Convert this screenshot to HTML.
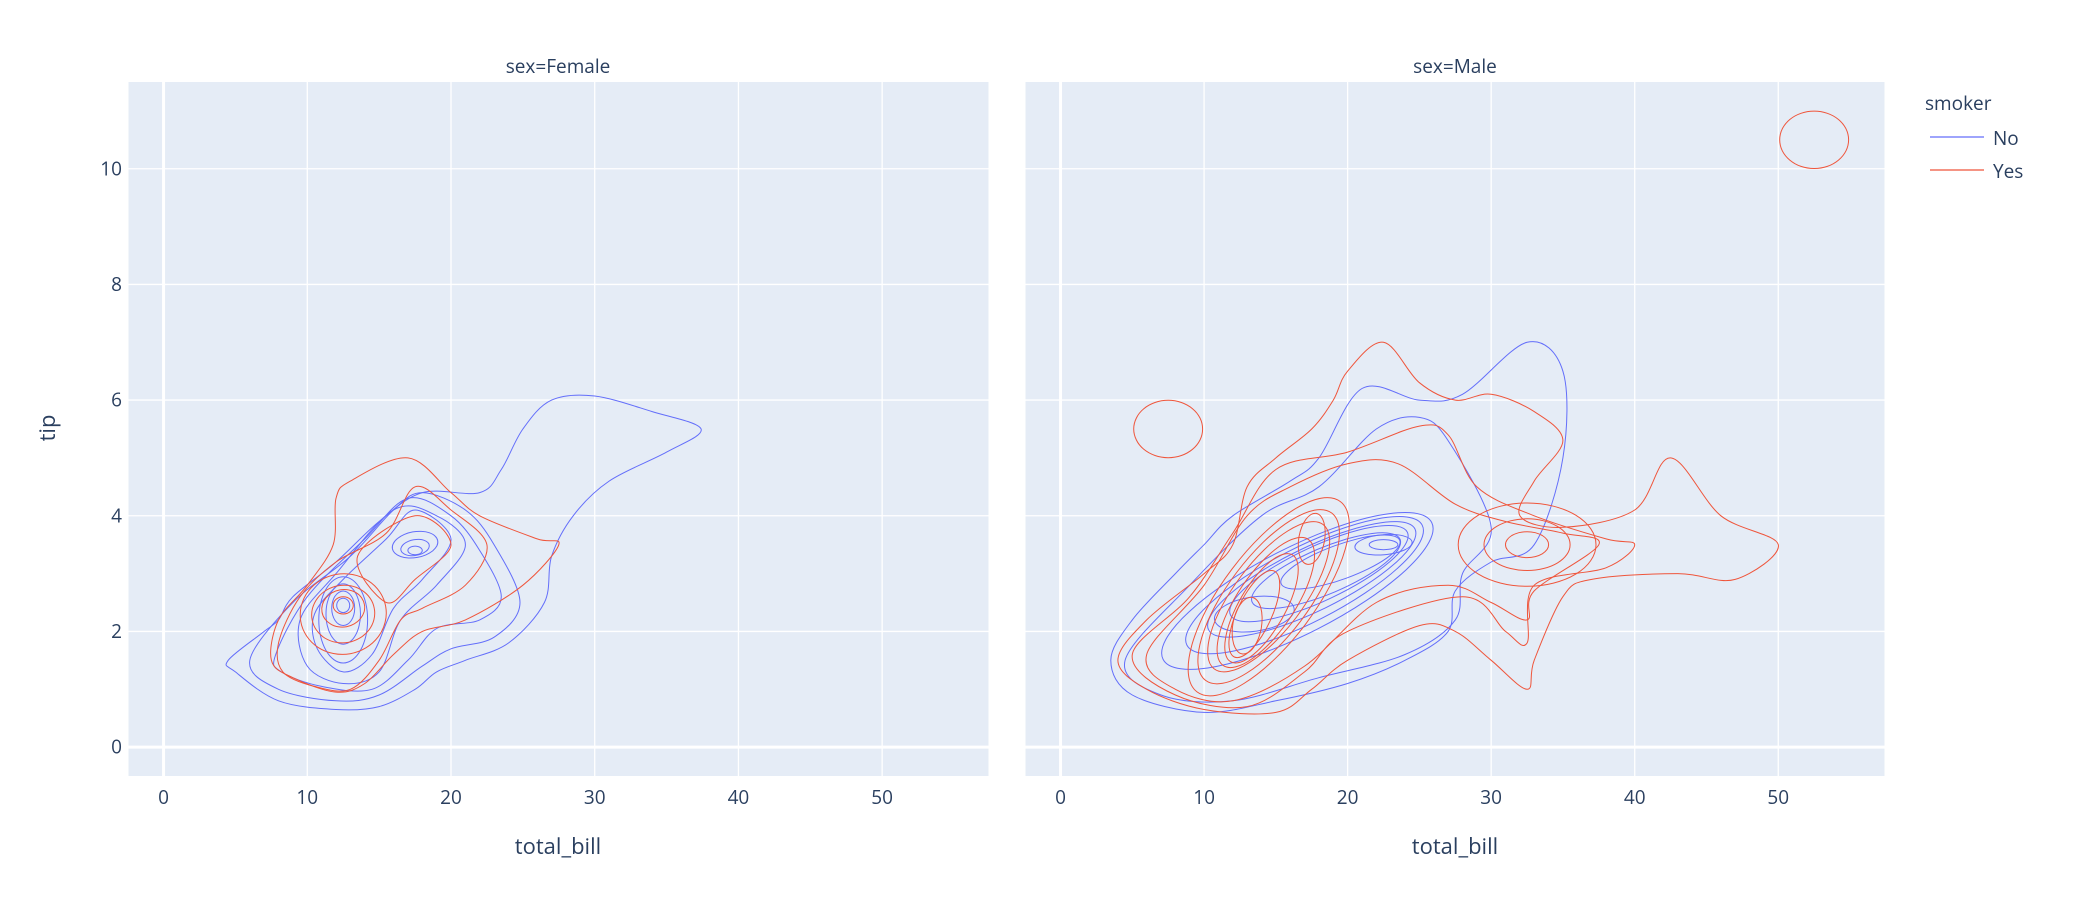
<!DOCTYPE html>
<html><head><meta charset="utf-8"><style>
body{margin:0;background:#fff;}
svg text{font-family:"Open Sans","Liberation Sans",sans-serif;fill:#2a3f5f;}
</style></head><body>
<svg id="chart" width="2078" height="906" viewBox="0 0 2078 906" xmlns="http://www.w3.org/2000/svg">
<g id="bg"></g><g id="grid"></g><g id="marks"></g><g id="labels"></g>
<text x="558" y="73" text-anchor="middle" font-size="19">sex=Female</text>
<text x="1455" y="73" text-anchor="middle" font-size="19">sex=Male</text>
<text x="558" y="854" text-anchor="middle" font-size="22">total_bill</text>
<text x="1455" y="854" text-anchor="middle" font-size="22">total_bill</text>
<text transform="translate(55,428) rotate(-90)" text-anchor="middle" font-size="22">tip</text>
<g>
<text x="1925" y="110" font-size="19">smoker</text>
<g><line x1="1930" y1="137" x2="1984" y2="137" stroke="#636efa" stroke-width="1.3"/><text x="1993" y="145" font-size="19">No</text></g>
<g><line x1="1930" y1="170" x2="1984" y2="170" stroke="#ef553b" stroke-width="1.3"/><text x="1993" y="178" font-size="19">Yes</text></g>
</g>
</svg>
<script>
const xTicks=[0,10,20,30,40,50];
const yTicks=[0,2,4,6,8,10];
const xRange=[-2.44,57.4];
const yRange=[-0.5,11.5];
// Polyline contours in data units [total_bill, tip]
const femaleNoPaths=[
 [[4.5,1.5],[7,2],[8,2.2],[9,2.6],[12,3.2],[15,3.9],[18,4.4],[22,4.4],[23.5,4.8],[25,5.5],[27,6],[30,6.07],[34,5.8],[37.4,5.5],[35,5.1],[31,4.6],[28.5,4],[27,3.3],[26.5,2.5],[24,1.8],[21,1.5],[19,1.3],[17.5,1],[15,0.7],[12,0.65],[8,0.8],[5,1.3]],
 [[6,1.5],[9,2.5],[13,3.3],[16,4.1],[18,4.4],[21,4.1],[23,3.5],[24.8,2.5],[23,1.9],[20,1.7],[18,1.4],[15,0.9],[12,0.8],[8,1.0]],
 [[7.8,1.6],[10,2.6],[14,3.6],[17,4.3],[20,4.0],[22,3.4],[23.5,2.6],[22,2.2],[19,2.05],[17,1.5],[14.5,1.0],[11,1.05],[8.2,1.3]],
 [[9.5,2.2],[12,3.0],[16,4.1],[19,4.0],[21,3.5],[19,2.8],[16.5,2.2],[15,1.3],[12.5,1.1],[10,1.4]],
 [[10.5,2.3],[12.5,2.9],[15.5,3.6],[17.5,4.1],[20,3.6],[18,2.9],[16,2.4],[14.5,1.6],[12.5,1.3],[10.7,1.7]]
];
const femaleYesPaths=[
 [[7.5,1.5],[8,2.2],[10,2.8],[11.8,3.5],[12,4.3],[13,4.6],[17,5],[20,4.4],[22,4.0],[26,3.6],[27.5,3.5],[25,2.8],[21,2.2],[18,2.0],[16,1.6],[14,1.1],[12,0.95],[9,1.2]],
 [[8,1.8],[9.5,2.6],[12,3.2],[15.5,3.7],[17.5,4.5],[20,4.1],[22.5,3.5],[21,2.8],[18,2.4],[16.5,2.2],[15,1.5],[13,1.0],[10.5,1.05],[8.3,1.3]],
 [[13.5,3.3],[17.5,4.0],[20,3.5],[17.5,2.9],[15.5,2.5]]
];
const maleNoPaths=[
 [[3.5,1.5],[5,2.2],[8,3],[10,3.5],[12,4],[16,4.6],[18,5],[21,6.2],[25,6.0],[28,6.1],[32.5,7],[35,6.5],[35,5],[33,3.5],[30,3.2],[27.5,2.7],[27,2.0],[24,1.5],[20,1.1],[15,0.8],[10,0.6],[5,0.9]],
 [[4.5,1.5],[9,2.8],[14,4],[18,4.5],[22,5.5],[25,5.7],[27,5.3],[30,3.8],[28,3],[27.5,2.2],[24,1.6],[18,1.2],[12,0.8],[7,0.9]]
];
const maleYesPaths=[
 [[4,1.5],[6,2.2],[10,3],[12,3.5],[13,4.5],[15,5],[17.5,5.5],[19,6],[20,6.5],[22.5,7],[25,6.3],[27.5,6.0],[30,6.1],[33,5.8],[35,5.3],[33,4.6],[32,4.0],[35,3.8],[40,4.1],[42.5,5],[46,4],[50,3.5],[47,2.9],[43,3.0],[37,2.9],[35,2.6],[33,1.5],[32.5,1.0],[30,1.5],[27.5,2.0],[25,2.1],[20,1.5],[17.5,1.0],[15,0.6],[10,0.65],[6,1.0]],
 [[5,1.6],[9,2.6],[12,3.7],[15,4.8],[20,5.1],[25,5.55],[27,5.4],[29,4.5],[33,4.0],[38,3.6],[40,3.5],[38,3.1],[33,2.8],[32.5,1.8],[31,2.0],[28,2.6],[20,2.0],[17,1.3],[13,0.7],[8,0.9]],
 [[6,1.6],[10,2.8],[13,4],[16,4.5],[20,4.9],[23.5,4.9],[27.5,4.2],[31,3.9],[35,3.7],[37.5,3.5],[33,2.7],[32.5,2.2],[30,2.5],[27,2.8],[22,2.5],[17,1.4],[12,0.8],[8,1.0]]
];
// Ring contours: [cx, cy, semiMajor(x units), semiMinor(x units), angleDeg]
const femaleNoRings=[[17.5,3.5,1.6,0.9,-10],[17.5,3.45,1.0,0.55,-10],[17.5,3.4,0.5,0.3,0],[12.5,2.2,1.7,3.0,0],[12.5,2.3,1.2,2.1,0],[12.5,2.4,0.8,1.2,0],[12.5,2.45,0.45,0.5,0]];
const femaleYesRings=[[12.5,2.3,3.0,2.8,-10],[12.5,2.3,2.2,2.0,-10],[12.5,2.4,1.5,1.3,-10],[12.5,2.45,0.7,0.6,0]];
const maleNoRings=[[16.5,2.7,10.5,3.0,-27],[17,2.8,9.2,2.6,-27],[17.5,2.9,8,2.2,-26],[18,3.0,6.8,1.9,-25],[18.5,3.05,5.6,1.6,-23],[19.5,3.2,4.4,1.2,-20],[22.5,3.5,2.0,0.7,-5],[22.5,3.5,1.0,0.35,0],[13.5,2.3,2.8,1.2,-8]];
const maleYesRings=[[7.5,5.5,2.4,2.0,0],[52.5,10.5,2.4,2.0,0],[32.5,3.5,4.8,2.9,0],[32.5,3.5,3.0,1.8,0],[32.5,3.5,1.5,0.9,0],[14.5,2.6,8.3,3.2,-53],[14.5,2.6,7.3,2.8,-53],[14.5,2.6,6.3,2.4,-53],[14.3,2.5,5.3,2.0,-56],[14,2.4,4.3,1.6,-60],[13.5,2.3,3.3,1.2,-65],[17.5,3.6,1.8,0.9,-80],[13,2.1,2.0,1.0,-80]];

const NS='http://www.w3.org/2000/svg';
const panels=[{name:'female',x0:128.5,x1:988.5},{name:'male',x0:1025.5,x1:1884.5}];
const PY0=82,PY1=776;
function sx(p,v){return p.x0+(v-xRange[0])/(xRange[1]-xRange[0])*(p.x1-p.x0);}
function sy(v){return PY1-(v-yRange[0])/(yRange[1]-yRange[0])*(PY1-PY0);}
function pxPerX(p){return (p.x1-p.x0)/(xRange[1]-xRange[0]);}
function smooth(pts){
 const n=pts.length;let d='M'+pts[0][0].toFixed(1)+','+pts[0][1].toFixed(1);
 for(let i=0;i<n;i++){
  const p0=pts[(i-1+n)%n],p1=pts[i],p2=pts[(i+1)%n],p3=pts[(i+2)%n];
  const c1=[p1[0]+(p2[0]-p0[0])/6,p1[1]+(p2[1]-p0[1])/6];
  const c2=[p2[0]-(p3[0]-p1[0])/6,p2[1]-(p3[1]-p1[1])/6];
  d+='C'+c1[0].toFixed(1)+','+c1[1].toFixed(1)+' '+c2[0].toFixed(1)+','+c2[1].toFixed(1)+' '+p2[0].toFixed(1)+','+p2[1].toFixed(1);
 }
 return d+'Z';
}
function addPath(d,color,name){
 const el=document.createElementNS(NS,'path');
 el.setAttribute('d',d);el.setAttribute('fill','none');el.setAttribute('stroke',color);el.setAttribute('stroke-width','1');
 
 
 document.getElementById('marks').appendChild(el);
}
function drawPaths(p,list,color,label){
 list.forEach((c,i)=>{addPath(smooth(c.map(q=>[sx(p,q[0]),sy(q[1])])),color,label+'-contour-'+i);});
}
function drawRings(p,list,color,label){
 const k=pxPerX(p);
 list.forEach((r,i)=>{
  const cx=sx(p,r[0]),cy=sy(r[1]),a=r[2]*k,b=r[3]*k,t=r[4]*Math.PI/180;
  const pts=[];
  for(let j=0;j<16;j++){const u=j/16*2*Math.PI;const ex=a*Math.cos(u),ey=b*Math.sin(u);
   pts.push([cx+ex*Math.cos(t)-ey*Math.sin(t),cy+ex*Math.sin(t)+ey*Math.cos(t)]);}
  addPath(smooth(pts),color,label+'-ring-'+i);
 });
}
const bg=document.getElementById('bg'),grid=document.getElementById('grid'),lab=document.getElementById('labels');
panels.forEach((p,pi)=>{
 const r=document.createElementNS(NS,'rect');
 r.setAttribute('x',p.x0);r.setAttribute('y',PY0);r.setAttribute('width',p.x1-p.x0);r.setAttribute('height',PY1-PY0);r.setAttribute('fill','#e5ecf6');
 
 
 bg.appendChild(r);
 xTicks.forEach(v=>{
  const l=document.createElementNS(NS,'line');const x=sx(p,v);
  l.setAttribute('x1',x);l.setAttribute('x2',x);l.setAttribute('y1',PY0);l.setAttribute('y2',PY1);
  l.setAttribute('stroke','#fff');l.setAttribute('stroke-width',v===0?'3':'1.3');
  
  
  grid.appendChild(l);
  const t=document.createElementNS(NS,'text');t.setAttribute('x',x);t.setAttribute('y',804);t.setAttribute('text-anchor','middle');t.setAttribute('font-size','19');t.textContent=v;
  
  
  lab.appendChild(t);
 });
 yTicks.forEach(v=>{
  const l=document.createElementNS(NS,'line');const y=sy(v);
  l.setAttribute('x1',p.x0);l.setAttribute('x2',p.x1);l.setAttribute('y1',y);l.setAttribute('y2',y);
  l.setAttribute('stroke','#fff');l.setAttribute('stroke-width',v===0?'3':'1.3');
  
  
  grid.appendChild(l);
  if(pi===0){const t=document.createElementNS(NS,'text');t.setAttribute('x',122);t.setAttribute('y',y+6.5);t.setAttribute('text-anchor','end');t.setAttribute('font-size','19');t.textContent=v;
  
  
  lab.appendChild(t);}
 });
});
const F=panels[0],M=panels[1];
drawPaths(F,femaleNoPaths,'#636efa','female-no');drawRings(F,femaleNoRings,'#636efa','female-no');
drawPaths(F,femaleYesPaths,'#ef553b','female-yes');drawRings(F,femaleYesRings,'#ef553b','female-yes');
drawPaths(M,maleNoPaths,'#636efa','male-no');drawRings(M,maleNoRings,'#636efa','male-no');
drawPaths(M,maleYesPaths,'#ef553b','male-yes');drawRings(M,maleYesRings,'#ef553b','male-yes');
</script>
</body></html>
